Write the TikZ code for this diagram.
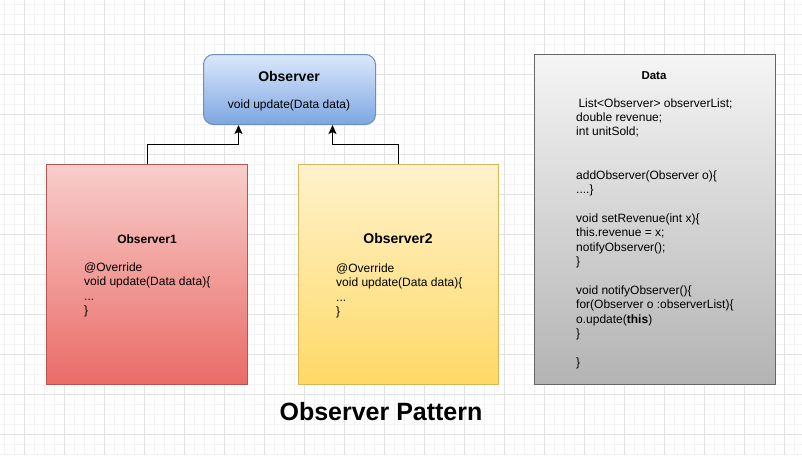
\documentclass[tikz,border=0pt]{standalone}
\usepackage{fontspec}
\setmainfont{Liberation Sans}
\usetikzlibrary{arrows.meta}
\definecolor{obsTop}{HTML}{DAE8FC}
\definecolor{obsBot}{HTML}{7EA6E0}
\definecolor{obsLine}{HTML}{6C8EBF}
\definecolor{redTop}{HTML}{F8CECC}
\definecolor{redBot}{HTML}{EA6B66}
\definecolor{redLine}{HTML}{B85450}
\definecolor{yelTop}{HTML}{FFF2CC}
\definecolor{yelBot}{HTML}{FFD966}
\definecolor{yelLine}{HTML}{D6B656}
\definecolor{grayTop}{HTML}{F5F5F5}
\definecolor{grayBot}{HTML}{B3B3B3}
\definecolor{grayLine}{HTML}{666666}
\definecolor{gridMinor}{HTML}{F3F3F3}
\definecolor{gridMajor}{HTML}{E2E2E2}

\begin{document}
\begin{tikzpicture}[x=1pt, y=-1pt, every node/.style={inner sep=0pt, font=\fontsize{12}{14.5}\selectfont}]
  \tikzstyle{box}=[draw, line width=1pt, anchor=north west]
  \tikzstyle{head}=[anchor=base, font=\bfseries\fontsize{12}{14}\selectfont]
  \tikzstyle{code}=[anchor=base west, align=left]
  \tikzstyle{arr}=[draw, line width=1pt, -{Stealth[length=9pt, width=8pt, inset=2pt]}]
  \useasboundingbox (0,0) rectangle (802,455);
  \fill[white] (0,0) rectangle (802,455);
  \foreach \x in {4,14,...,804} \draw[gridMinor, line width=1pt] (\x,0) -- (\x,455);
  \foreach \y in {4,14,...,454} \draw[gridMinor, line width=1pt] (0,\y) -- (802,\y);
  \foreach \x in {24,64,...,784} \draw[gridMajor, line width=1pt] (\x,0) -- (\x,455);
  \foreach \y in {34,74,...,434} \draw[gridMajor, line width=1pt] (0,\y) -- (802,\y);

  \node[box, rounded corners=10pt, draw=obsLine, top color=obsTop, bottom color=obsBot,
        minimum width=172pt, minimum height=70pt] (obs) at (203,54) {};
  \node[box, draw=redLine, top color=redTop, bottom color=redBot,
        minimum width=201pt, minimum height=220pt] (obs1) at (46,164) {};
  \node[box, draw=yelLine, top color=yelTop, bottom color=yelBot,
        minimum width=200pt, minimum height=220pt] (obs2) at (298,164) {};
  \node[box, draw=grayLine, top color=grayTop, bottom color=grayBot,
        minimum width=241pt, minimum height=330pt] (data) at (534,54) {};

  \node[head, font=\bfseries\fontsize{14}{16}\selectfont] (obsname) at (289,81) {Observer};
  \node[anchor=base] (obsop) at (289,108) {void update(Data data)};

  \node[head] (obs1name) at (147,243) {Observer1};
  \node[code] (obs1code) at (84,314.5) {@Override\\void update(Data data)\{\\...\\\}};

  \node[head, font=\bfseries\fontsize{14}{16}\selectfont] (obs2name) at (398,243) {Observer2};
  \node[code] (obs2code) at (336,315.5) {@Override\\void update(Data data)\{\\...\\\}};

  \node[head, font=\bfseries\fontsize{11.5}{14}\selectfont] (dataname) at (654,79) {Data};
  \node[code, font=\fontsize{12}{14.42}\selectfont] (datacode) at (576,366.6)
    {\hspace{2.3pt}List<Observer> observerList;\\double revenue;\\int unitSold;\\ \\ \\
     addObserver(Observer o)\{\\....\}\\ \\
     void setRevenue(int x)\{\\this.revenue = x;\\notifyObserver();\\\}\\ \\
     void notifyObserver()\{\\for(Observer o :observerList)\{\\o.update(\textbf{this})\\\}\\ \\\}};

  \draw[arr] (obs1.north) -- ++(0,-20) -| ([xshift=-51pt]obs.south);
  \draw[arr] (obs2.north) -- ++(0,-20) -| ([xshift=43pt]obs.south);

  \node[anchor=base, font=\bfseries\fontsize{25}{30}\selectfont] (title) at (381,420) {Observer Pattern};
\end{tikzpicture}
\end{document}
